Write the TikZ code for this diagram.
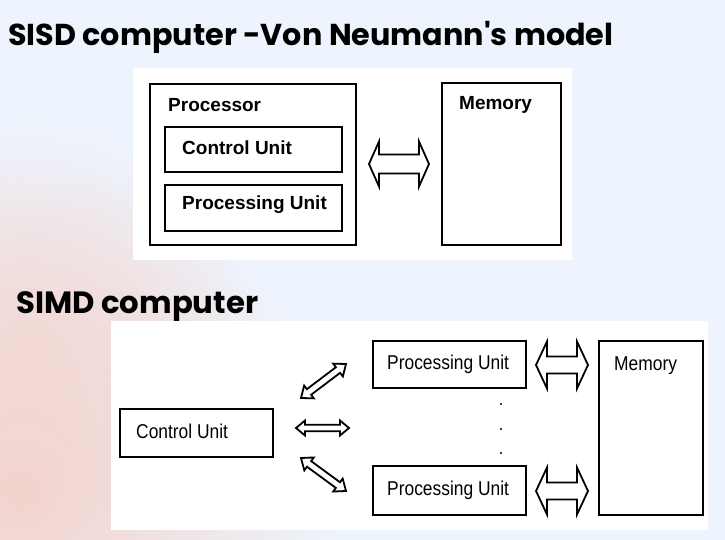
\documentclass[tikz,border=0pt]{standalone}
\usepackage{fontspec}
\usepackage{graphicx}
\setmainfont{Liberation Sans}
\newfontfamily\titlefont{Poppins}
\newfontfamily\narrowfont[FakeStretch=0.87]{Liberation Sans}
\usetikzlibrary{calc,fadings}

\definecolor{pagebg}{RGB}{238,244,253}
\definecolor{blush}{RGB}{243,212,206}

\tikzfading[name=glow, inner color=transparent!0, outer color=transparent!100]

\tikzset{
  box/.style={draw=black, fill=white, rectangle, inner sep=0pt},
  thickbox/.style={box, line width=2.8pt},
  thinbox/.style={box, line width=2.2pt},
  boldlabel/.style={anchor=west, inner sep=0pt, font=\fontsize{19}{22}\selectfont\bfseries},
  narrowlabel/.style={anchor=west, inner sep=0pt, font=\fontsize{20}{22}\narrowfont},
  heading/.style={anchor=base west, inner sep=0pt, font=\titlefont\bfseries},
  barrow/.style={draw=black, fill=white, line width=1.8pt, line join=miter},
  dot/.style={circle, fill=black, inner sep=0pt, minimum size=2.2pt},
}

% hollow two-headed block arrow between two named points
% #1 start, #2 end, #3 half shaft width, #4 half head width, #5 head length
\newcommand\blockarrow[5]{%
  \draw[barrow] (#1)
    -- ($(#1)!#5!(#2)!#4!90:(#2)$) -- ($(#1)!#5!(#2)!#3!90:(#2)$)
    -- ($(#2)!#5!(#1)!#3!-90:(#1)$) -- ($(#2)!#5!(#1)!#4!-90:(#1)$)
    -- (#2)
    -- ($(#2)!#5!(#1)!#4!90:(#1)$) -- ($(#2)!#5!(#1)!#3!90:(#1)$)
    -- ($(#1)!#5!(#2)!#3!-90:(#2)$) -- ($(#1)!#5!(#2)!#4!-90:(#2)$)
    -- cycle;}

\begin{document}
\begin{tikzpicture}[x=1pt, y=-1pt]
  \useasboundingbox (0,0) rectangle (725,540);
  % page and its soft background
  \fill[pagebg] (0,0) rectangle (725,540);
  \begin{scope}
    \clip (0,0) rectangle (725,540);
    \fill[blush, path fading=glow] (20,490) circle [radius=320];
    \fill[blush, opacity=0.7, path fading=glow] (30,340) circle [radius=220];
  \end{scope}

  % headings
  \node[heading] (sisdtitle) at (8,46) {\resizebox{605pt}{!}{SISD computer -Von Neumann\textquotesingle s model}};
  \node[heading] (simdtitle) at (16,313) {\resizebox{242pt}{!}{SIMD computer}};

  % ---- SISD ----
  \fill[white] (133,68) rectangle (572,260);
  \node[thickbox, minimum width=206pt, minimum height=161pt] (proc) at (253,164.5) {};
  \node[thinbox, minimum width=177pt, minimum height=45pt] (cu1) at (253.5,149.5) {};
  \node[thinbox, minimum width=177pt, minimum height=46pt] (pu1) at (253.5,208) {};
  \node[thickbox, minimum width=119pt, minimum height=162pt] (mem1) at (501.5,164) {};
  \node[boldlabel] (proclbl) at (168,105) {Processor};
  \node[boldlabel] (cu1lbl) at (182,148) {Control Unit};
  \node[boldlabel] (pu1lbl) at (182,205) {Processing Unit};
  \node[boldlabel] (mem1lbl) at (459,105) {Memory};

  \coordinate (pm1a) at (369,164);
  \coordinate (pm1b) at (429,164);
  \blockarrow{pm1a}{pm1b}{9.5pt}{22.5pt}{10pt}

  % ---- SIMD ----
  \fill[white] (111,321) rectangle (708,530);
  \node[thinbox, minimum width=153pt, minimum height=48pt] (cu2) at (196.5,433) {};
  \node[thickbox, minimum width=153pt, minimum height=47pt] (pua) at (449.5,364.5) {};
  \node[thickbox, minimum width=153pt, minimum height=49pt] (pub) at (449.5,490.5) {};
  \node[thickbox, minimum width=104pt, minimum height=174pt] (mem2) at (651,428) {};
  \node[narrowlabel] (cu2lbl) at (136,431) {Control Unit};
  \node[narrowlabel] (pualbl) at (387,364) {Processing Unit};
  \node[narrowlabel] (publbl) at (387,490) {Processing Unit};
  \node[narrowlabel] (mem2lbl) at (614,366) {Memory};

  \node[dot] (d1) at (501,404) {};
  \node[dot] (d2) at (501,429) {};
  \node[dot] (d3) at (501,453) {};

  \coordinate (ca1) at (301,398);
  \coordinate (ca2) at (346,364);
  \coordinate (cb1) at (296,428);
  \coordinate (cb2) at (349,428);
  \coordinate (cc1) at (301,458);
  \coordinate (cc2) at (346,491);
  \blockarrow{ca1}{ca2}{3.5pt}{8pt}{10pt}
  \blockarrow{cb1}{cb2}{3.3pt}{7.5pt}{9pt}
  \blockarrow{cc1}{cc2}{3.5pt}{8pt}{10pt}

  \coordinate (ma1) at (536,365);
  \coordinate (ma2) at (588,365);
  \coordinate (mb1) at (536,491);
  \coordinate (mb2) at (588,491);
  \blockarrow{ma1}{ma2}{8.5pt}{23.5pt}{11pt}
  \blockarrow{mb1}{mb2}{8.5pt}{23.5pt}{11pt}
\end{tikzpicture}
\end{document}
